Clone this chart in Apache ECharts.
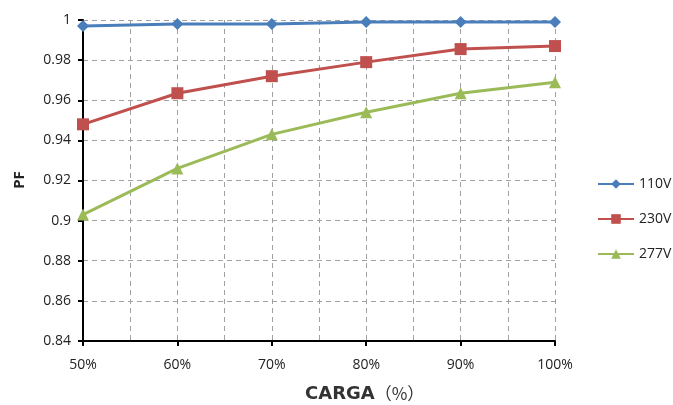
<!DOCTYPE html>
<html>
<head>
<meta charset="utf-8">
<script src="https://cdn.jsdelivr.net/npm/echarts@6/dist/echarts.min.js"></script>
<style>
  html, body { margin: 0; padding: 0; background: #fff; }
  #chart { width: 673px; height: 405px; }
</style>
</head>
<body>
<div id="chart"></div>
<script>
// Load levels (%) and power factor readings per supply voltage
const loads = [50, 60, 70, 80, 90, 100];
const pf110 = [0.997, 0.998, 0.998, 0.999, 0.999, 0.999];
const pf230 = [0.948, 0.9635, 0.972, 0.979, 0.9855, 0.987];
const pf277 = [0.903, 0.926, 0.943, 0.954, 0.9635, 0.969];
const seriesNames = ['110V', '230V', '277V'];

const font = '"Open Sans", "Liberation Sans", sans-serif';
const pairs = (ys) => loads.map((x, i) => [x, ys[i]]);

const chart = echarts.init(document.getElementById('chart'), null, { renderer: 'canvas' });

const lineSeries = (name, data, color, symbol, size) => ({
  name,
  type: 'line',
  data: pairs(data),
  symbol,
  symbolSize: size,
  showSymbol: true,
  lineStyle: { color, width: 3 },
  itemStyle: { color },
  emphasis: { disabled: true },
  z: 3
});

chart.setOption({
  animation: false,
  grid: { left: 83, right: 118, top: 20, bottom: 64, containLabel: false },
  legend: {
    orient: 'vertical',
    left: 592,
    top: 172,
    itemWidth: 36,
    itemHeight: 12,
    itemGap: 21,
    textStyle: { fontFamily: font, fontSize: 14, color: '#222' },
    data: seriesNames
  },
  xAxis: {
    type: 'value',
    min: 50,
    max: 100,
    interval: 10,
    axisLine: { lineStyle: { color: '#000', width: 2 } },
    axisTick: { show: true, length: 5, lineStyle: { color: '#000', width: 2 } },
    minorTick: { show: false, splitNumber: 2 },
    minorSplitLine: { show: true, lineStyle: { color: '#a0a0a0', type: [5, 4], width: 1 } },
    splitLine: { show: true, lineStyle: { color: '#a0a0a0', type: [5, 4], width: 1 } },
    axisLabel: {
      fontFamily: font, fontSize: 14, color: '#222', margin: 17,
      formatter: (v) => v + '%'
    }
  },
  yAxis: {
    type: 'value',
    min: 0.84,
    max: 1,
    interval: 0.02,
    axisLine: { show: true, lineStyle: { color: '#000', width: 2 } },
    axisTick: { show: true, length: 5, lineStyle: { color: '#000', width: 2 } },
    splitLine: { show: true, lineStyle: { color: '#a0a0a0', type: [5, 4], width: 1 } },
    axisLabel: {
      fontFamily: font, fontSize: 14, color: '#222', margin: 12,
      formatter: (v) => String(parseFloat(v.toFixed(2)))
    }
  },
  graphic: [
    {
      type: 'text',
      left: 305,
      top: 385,
      style: {
        text: '{a|CARGA}{b|（%）}',
        rich: {
          a: { fontFamily: '"DejaVu Sans", sans-serif', fontWeight: 'bold', fontSize: 18, fill: '#333', color: '#333' },
          b: { fontFamily: '"Noto Sans CJK SC", sans-serif', fontWeight: 'normal', fontSize: 17, fill: '#333', color: '#333' }
        }
      }
    },
    {
      type: 'text',
      x: 20,
      y: 180,
      rotation: Math.PI / 2,
      style: { text: 'PF', font: 'bold 15px ' + font, fill: '#222', align: 'center', verticalAlign: 'middle' }
    }
  ],
  series: [
    lineSeries(seriesNames[0], pf110, '#4a7ebb', 'diamond', 12),
    lineSeries(seriesNames[1], pf230, '#c0504d', 'rect', 12),
    lineSeries(seriesNames[2], pf277, '#9bbb59', 'triangle', 12)
  ]
});
</script>
</body>
</html>
